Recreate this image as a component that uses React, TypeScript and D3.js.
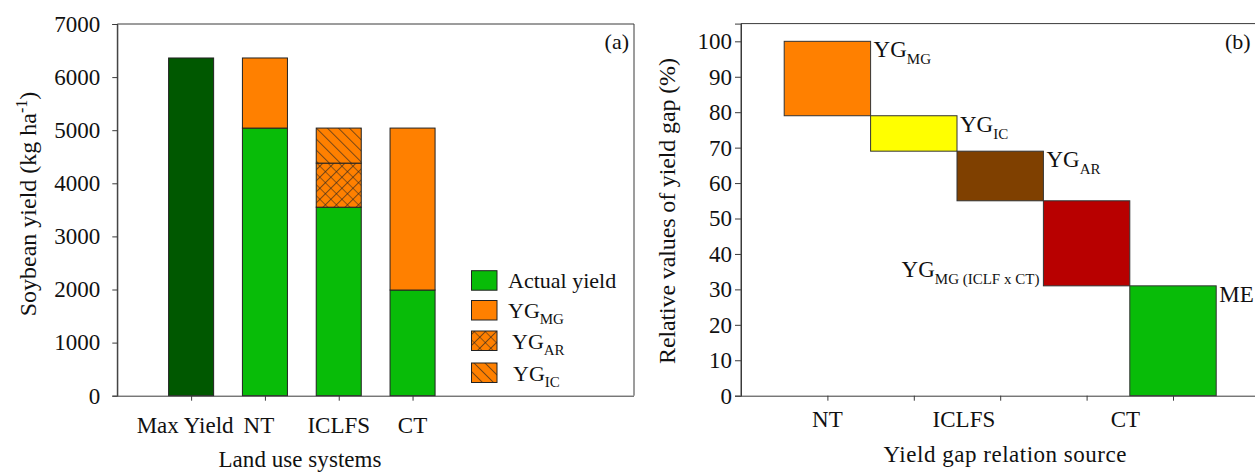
import React, { useRef, useEffect } from 'react';
import * as d3 from 'd3';

// panel (a) data, kg/ha
const systems = ['Max Yield', 'NT', 'ICLFS', 'CT'];
const maxYield = [6360, 0, 0, 0];
const actualYield = [0, 5040, 3550, 1990];
const ygAR = [0, 0, 830, 0];
const ygIC = [0, 0, 660, 0];
const ygMG = [0, 1320, 0, 3050];
const yieldTicks = [0, 1000, 2000, 3000, 4000, 5000, 6000, 7000];

// panel (b) data, %
const gapMain = ['YG', 'YG', 'YG', 'YG', 'ME'];
const gapSub = ['MG', 'IC', 'AR', 'MG (ICLF x CT)', ''];
const gapLow = [79, 69, 55, 31, 0];
const gapHigh = [100, 79, 69, 55, 31];
const gapColors = ['#ff8000', '#ffff00', '#7f4000', '#b80000', '#08bc08'];
const gapTickLabels = ['NT', 'ICLFS', 'CT'];
const gapTickPos = [1, 2.58, 4.45];
const gapTicks = [0, 10, 20, 30, 40, 50, 60, 70, 80, 90, 100];

const FONT = "'Liberation Serif', 'Times New Roman', 'DejaVu Serif', serif";
const AXIS = '#3a3a3a';
const GREEN = '#08bc08';
const ORANGE = '#ff8000';

const App = () => {
  const svgRef = useRef<SVGSVGElement>(null);

  useEffect(() => {
    const svg = d3.select(svgRef.current);
    svg.selectAll('*').remove();

    // hatch patterns
    const defs = svg.append('defs');
    const cross = defs.append('pattern').attr('id', 'cross')
      .attr('patternUnits', 'userSpaceOnUse').attr('width', 7.8).attr('height', 7.8)
      .attr('patternTransform', 'rotate(45)');
    cross.append('rect').attr('width', 7.8).attr('height', 7.8).attr('fill', ORANGE);
    cross.append('path').attr('d', 'M0,0 L0,7.8 M0,0 L7.8,0').attr('stroke', '#222').attr('stroke-width', 1.2);
    const diag = defs.append('pattern').attr('id', 'diag')
      .attr('patternUnits', 'userSpaceOnUse').attr('width', 7.8).attr('height', 7.8)
      .attr('patternTransform', 'rotate(-45)');
    diag.append('rect').attr('width', 7.8).attr('height', 7.8).attr('fill', ORANGE);
    diag.append('path').attr('d', 'M0,0 L0,7.8').attr('stroke', '#222').attr('stroke-width', 1.2);

    // ---------- panel (a) ----------
    const xa = d3.scaleLinear().domain([0, 7]).range([117.3, 634]);
    const ya = d3.scaleLinear().domain([0, 7000]).range([395.7, 24]);
    const ga = svg.append('g');

    const rows = systems.map((s, i) => ({
      name: s, max: maxYield[i], actual: actualYield[i], ar: ygAR[i], ic: ygIC[i], mg: ygMG[i],
    }));
    const keys = ['max', 'actual', 'ar', 'ic', 'mg'];
    const fills: Record<string, string> = {
      max: '#005800', actual: GREEN, ar: 'url(#cross)', ic: 'url(#diag)', mg: ORANGE,
    };
    const stacked = d3.stack<any>().keys(keys)(rows);
    const bw = 0.61;
    stacked.forEach((layer) => {
      ga.append('g').selectAll('rect')
        .data(layer.filter((d) => d[1] - d[0] > 0))
        .join('rect')
        .attr('x', (d: any) => xa(systems.indexOf(d.data.name) + 1 - bw / 2))
        .attr('width', xa(bw) - xa(0))
        .attr('y', (d: any) => ya(d[1]))
        .attr('height', (d: any) => ya(d[0]) - ya(d[1]))
        .attr('fill', fills[layer.key])
        .attr('stroke', '#222')
        .attr('stroke-width', 1);
    });

    // frame
    ga.append('path')
      .attr('d', `M${xa(0)},${ya(0)} V${ya(7000)} H${xa(7)} V${ya(0)}`)
      .attr('fill', 'none').attr('stroke', AXIS).attr('stroke-width', 1);

    const axA = ga.append('g').attr('transform', `translate(${xa(0)},0)`)
      .call(d3.axisLeft(ya).tickValues(yieldTicks).tickSize(5).tickPadding(12).tickFormat(d3.format('d')));
    const axAx = ga.append('g').attr('transform', `translate(0,${ya(0)})`)
      .call(d3.axisBottom(xa).tickValues([1, 2, 3, 4]).tickSize(5).tickFormat(() => ''));
    [axA, axAx].forEach((ax) => {
      ax.select('.domain').attr('stroke', AXIS);
      ax.selectAll('.tick line').attr('stroke', AXIS);
      ax.selectAll('text').attr('font-size', 23).attr('fill', '#111');
    });
    axAx.select('.domain').attr('d', `M${xa(0)},0.5H${xa(7)}`);

    ga.append('g').selectAll('text').data(systems).join('text')
      .attr('x', (d, i) => xa(i + 1) + (i === 0 ? -6 : i === 1 ? -6 : 0))
      .attr('y', 433)
      .attr('text-anchor', 'middle')
      .attr('font-size', 23).attr('fill', '#111')
      .text((d) => d);

    ga.append('text').attr('x', 300).attr('y', 467).attr('text-anchor', 'middle')
      .attr('font-size', 23).attr('fill', '#111')
      .attr('textLength', 163).attr('lengthAdjust', 'spacing')
      .text('Land use systems');

    const ta = ga.append('text').attr('transform', 'translate(36,204) rotate(-90)')
      .attr('text-anchor', 'middle').attr('font-size', 24).attr('fill', '#111');
    ta.append('tspan').text('Soybean yield (kg ha');
    ta.append('tspan').attr('dy', -9).attr('font-size', 16).text('-1');
    ta.append('tspan').attr('dy', 9).text(')');

    ga.append('text').attr('x', 629).attr('y', 49).attr('text-anchor', 'end')
      .attr('font-size', 22).attr('fill', '#111').text('(a)');

    // legend
    const legendItems = [
      { main: 'Actual yield', sub: '', fill: GREEN, tx: 508 },
      { main: 'YG', sub: 'MG', fill: ORANGE, tx: 508 },
      { main: 'YG', sub: 'AR', fill: 'url(#cross)', tx: 512 },
      { main: 'YG', sub: 'IC', fill: 'url(#diag)', tx: 513 },
    ];
    const legendTop = [270.7, 300.5, 331, 363];
    const lg = ga.append('g');
    legendItems.forEach((it, i) => {
      lg.append('rect').attr('x', 471.5).attr('y', legendTop[i]).attr('width', 25.5).attr('height', 19.5)
        .attr('fill', it.fill).attr('stroke', '#222').attr('stroke-width', 1);
      const t = lg.append('text').attr('x', it.tx).attr('y', legendTop[i] + 17.5)
        .attr('font-size', 22).attr('fill', '#111');
      t.append('tspan').text(it.main);
      if (it.sub) t.append('tspan').attr('dy', 6).attr('font-size', 15).text(it.sub);
    });

    // ---------- panel (b) ----------
    const xb = d3.scaleLinear().domain([0, 6]).range([741, 1259.4]);
    const yb = d3.scaleLinear().domain([0, 105]).range([395.7, 23.6]);
    const gb = svg.append('g');

    gb.append('g').selectAll('rect').data(gapLow).join('rect')
      .attr('x', (d, i) => xb(i + 0.5))
      .attr('width', xb(1) - xb(0))
      .attr('y', (d, i) => yb(gapHigh[i]))
      .attr('height', (d, i) => yb(d) - yb(gapHigh[i]))
      .attr('fill', (d, i) => gapColors[i])
      .attr('stroke', '#333').attr('stroke-width', 1);

    gb.append('path')
      .attr('d', `M${xb(0)},${yb(0)} V${yb(105)} H${xb(6)} V${yb(0)}`)
      .attr('fill', 'none').attr('stroke', AXIS).attr('stroke-width', 1);

    const axB = gb.append('g').attr('transform', `translate(${xb(0)},0)`)
      .call(d3.axisLeft(yb).tickValues(gapTicks).tickSize(6).tickPadding(3).tickFormat(d3.format('d')));
    const axBx = gb.append('g').attr('transform', `translate(0,${yb(0)})`)
      .call(d3.axisBottom(xb).tickValues([1, 2, 3, 4, 5]).tickSize(5).tickFormat(() => ''));
    [axB, axBx].forEach((ax) => {
      ax.select('.domain').attr('stroke', AXIS);
      ax.selectAll('.tick line').attr('stroke', AXIS);
      ax.selectAll('text').attr('font-size', 23).attr('fill', '#111');
    });
    axBx.select('.domain').attr('d', `M${xb(0)},0.5H${xb(6)}`);

    gb.append('g').selectAll('text').data(gapTickLabels).join('text')
      .attr('x', (d, i) => xb(gapTickPos[i]))
      .attr('y', 427)
      .attr('text-anchor', 'middle')
      .attr('font-size', 23).attr('fill', '#111')
      .text((d) => d);

    gb.append('text').attr('x', 1005).attr('y', 462).attr('text-anchor', 'middle')
      .attr('font-size', 23).attr('fill', '#111')
      .attr('textLength', 243).attr('lengthAdjust', 'spacing')
      .text('Yield gap relation source');

    gb.append('text').attr('transform', 'translate(675,211) rotate(-90)')
      .attr('text-anchor', 'middle').attr('font-size', 24).attr('fill', '#111')
      .attr('textLength', 306).attr('lengthAdjust', 'spacing')
      .text('Relative values of yield gap (%)');

    gb.append('text').attr('x', 1225).attr('y', 49)
      .attr('font-size', 22).attr('fill', '#111').text('(b)');

    // box labels
    gapMain.forEach((m, i) => {
      const left = i === 3;
      const t = gb.append('text')
        .attr('x', left ? xb(i + 0.5) - 4 : xb(i + 1.5) + 3)
        .attr('y', left ? yb(gapLow[i]) - 9 : yb(gapHigh[i]) + 16)
        .attr('text-anchor', left ? 'end' : 'start')
        .attr('font-size', 23).attr('fill', '#111');
      t.append('tspan').text(m);
      if (gapSub[i]) t.append('tspan').attr('dy', 7).attr('font-size', 15).text(gapSub[i]);
    });

    // serif everywhere (d3 axes set their own sans-serif)
    svg.selectAll('text').style('font-family', FONT);
    svg.selectAll('g').attr('font-family', null);
  }, []);

  return (
    <svg ref={svgRef} width={1255} height={473}
      style={{ position: 'absolute', left: 0, top: 0, background: '#fff', fontFamily: FONT }} />
  );
};

export default App;
